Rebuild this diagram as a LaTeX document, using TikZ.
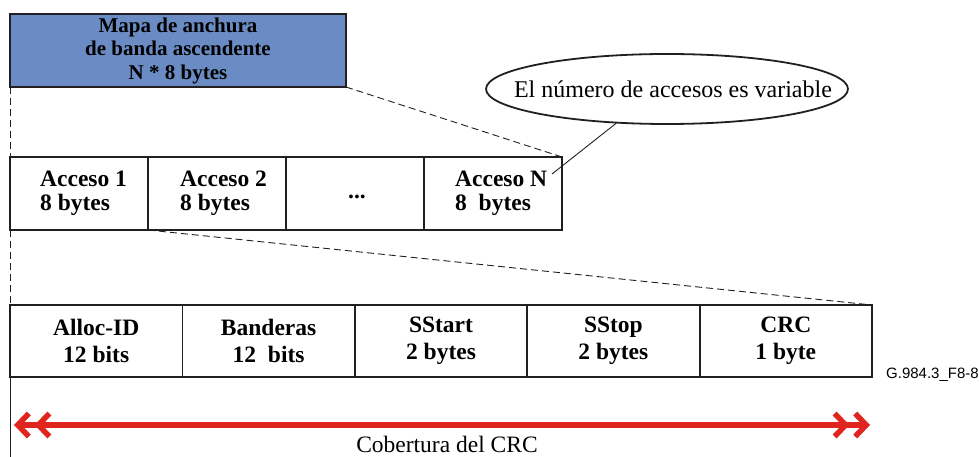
\documentclass[tikz,border=0pt]{standalone}
\usepackage{fontspec}
\setmainfont{Liberation Serif}
\newfontfamily\sansf{Liberation Sans}
\usetikzlibrary{shapes.geometric,arrows.meta}
\definecolor{mapblue}{RGB}{106,139,196}
\definecolor{crcred}{RGB}{224,36,30}
\definecolor{ink}{RGB}{35,31,32}
\begin{document}
\begin{tikzpicture}[x=1pt,y=-1pt,
  box/.style={draw=ink,line width=1.8pt,inner sep=0pt,outer sep=0pt,anchor=north west},
  accbox/.style={box,minimum width=138pt,minimum height=73pt},
  acctext/.style={anchor=west,inner sep=0pt,align=left,font=\fontsize{23.5}{24}\selectfont\bfseries},
  fldbox/.style={box,minimum width=172.4pt,minimum height=72pt,align=center,
    font=\fontsize{23.5}{26.5}\selectfont\bfseries},
  dashline/.style={draw=ink,line width=0.9pt,dash pattern=on 7pt off 4pt},
  thinline/.style={draw=ink,line width=0.9pt},
  barb/.tip={Straight Barb[length=11pt,width=23pt,line width=5.5pt,sep=3pt]},
  crcarrow/.style={draw=crcred,line width=5.5pt,{barb[]barb[]}-{barb[]barb[]}},
]
\useasboundingbox (0,0) rectangle (979,457);

\node[box,fill=mapblue,line width=1.2pt,minimum width=336pt,minimum height=73pt,align=center,
  font=\fontsize{21}{23.5}\selectfont\bfseries] (map) at (10,14)
  {Mapa de anchura\\de banda ascendente\\N * 8 bytes};

\node[accbox] (a1) at (10,157) {};
\node[accbox] (a2) at (148,157) {};
\node[accbox] (a3) at (286,157) {};
\node[accbox] (aN) at (424,157) {};
\node[acctext] (t1) at ([xshift=30pt]a1.west) {Acceso 1\\8 bytes};
\node[acctext] (t2) at ([xshift=32pt]a2.west) {Acceso 2\\8 bytes};
\node[acctext,anchor=base] (t3) at (357,198) {...};
\node[acctext] (tN) at ([xshift=31pt]aN.west) {Acceso N\\8~ bytes};

\node[fldbox] (f1) at (10,305) {Alloc-ID\\12 bits};
\node[fldbox] (f2) at (182.4,305) {Banderas\\12~ bits};
\node[fldbox] (f3) at (354.8,305) {SStart\\2 bytes};
\node[fldbox] (f4) at (527.2,305) {SStop\\2 bytes};
\node[fldbox] (f5) at (699.6,305) {CRC\\1 byte};

\draw[dashline] (map.south west) -- (a1.north west);
\draw[dashline] (map.south east) -- (aN.north east);
\draw[dashline] (a1.south west) -- (f1.north west);
\draw[dashline] (a1.south east) -- (f5.north east);
\coordinate (bot) at (10,457);
\draw[thinline] (f1.south west) -- (bot);

\node[ellipse,draw=ink,line width=1.8pt,minimum width=362pt,minimum height=70pt,inner sep=0pt] (ell) at (667,89) {};
\node[anchor=base,font=\fontsize{24}{26}\selectfont,inner sep=0pt] (elltxt) at (673,98) {El número de accesos es variable};
\coordinate (cn) at (552,174);
\draw[thinline] (ell.214) -- (cn);

\coordinate (al) at (11,425);
\coordinate (ar) at (873,425);
\draw[crcarrow] (al) -- (ar);
\node[anchor=base,font=\fontsize{23.5}{24}\selectfont,inner sep=0pt] (cov) at (447,452) {Cobertura del CRC};
\node[anchor=base west,font=\sansf\fontsize{15}{17}\selectfont,inner sep=0pt] (fig) at (886,378) {G.984.3\_F8-8};
\end{tikzpicture}
\end{document}
